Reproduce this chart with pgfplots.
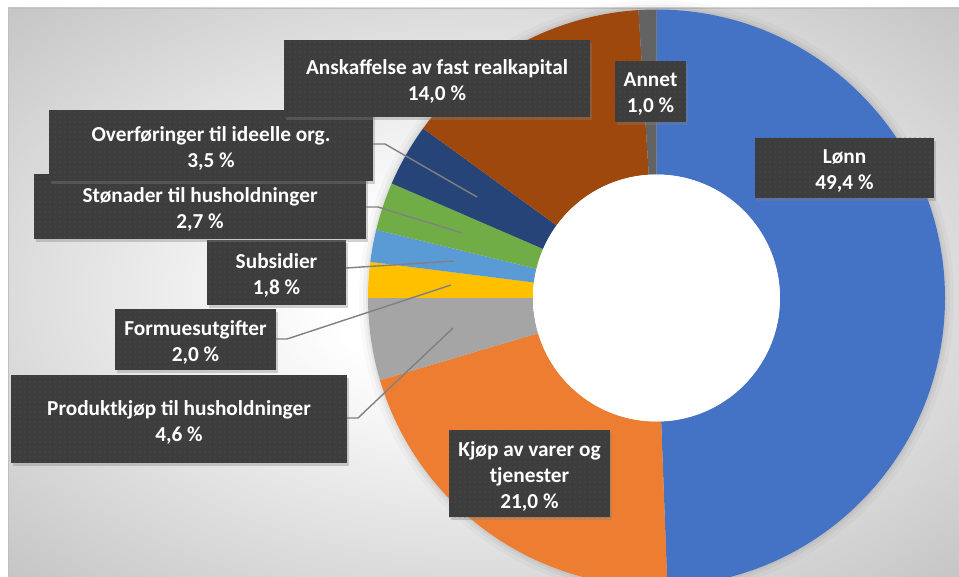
\documentclass[border=0pt]{standalone}
\usepackage{pgfplots}
\usepackage{pgfplotstable}
\pgfplotsset{compat=1.18}
\usetikzlibrary{shadows,patterns.meta}
\usepackage{fontspec}
\setmainfont{Carlito}

\definecolor{cLonn}{HTML}{4472C4}
\definecolor{cKjop}{HTML}{ED7D31}
\definecolor{cProd}{HTML}{A5A5A5}
\definecolor{cForm}{HTML}{FFC000}
\definecolor{cSub}{HTML}{5B9BD5}
\definecolor{cSton}{HTML}{70AD47}
\definecolor{cOver}{HTML}{264478}
\definecolor{cAnsk}{HTML}{9E480E}
\definecolor{cAnnet}{HTML}{636363}
\definecolor{boxc}{HTML}{3D3D3D}
\definecolor{dotc}{HTML}{555555}
\definecolor{leadc}{HTML}{808080}
\definecolor{bgout}{HTML}{C4C4C4}
\definecolor{holeout}{HTML}{D4D4D4}

\pgfdeclareradialshading{bgshade}{\pgfpoint{0bp}{0bp}}{color(0bp)=(white); color(8bp)=(white); color(36bp)=(bgout); color(50bp)=(bgout)}
\pgfdeclareradialshading{holeshade}{\pgfpoint{0bp}{0bp}}{color(0bp)=(white); color(28bp)=(white); color(50bp)=(holeout)}

\pgfplotstableread{
name value col
Lonn 49.4 cLonn
Kjop 21.0 cKjop
Produktkjop 4.6 cProd
Formuesutgifter 2.0 cForm
Subsidier 1.8 cSub
Stonader 2.7 cSton
Overforinger 3.5 cOver
Anskaffelse 14.0 cAnsk
Annet 1.0 cAnnet
}\slices

\tikzset{
  lblbox/.style={fill=boxc, inner sep=0pt, anchor=center,
    drop shadow={shadow xshift=2pt, shadow yshift=-3pt, opacity=0.35},
    postaction={pattern={Dots[distance=5pt, radius=0.7pt]}, pattern color=dotc}},
  lbltxt/.style={text=white, font=\bfseries\fontsize{21.3}{26}\selectfont,
    align=center, inner sep=0pt, anchor=center, yshift=-3pt},
  lead/.style={draw=leadc, line width=1.4pt}
}
\newcommand\lab[5]{%
  \node[lblbox, minimum width=#3pt, minimum height=#4pt] at (axis cs:#1,#2) {};
  \node[lbltxt] at (axis cs:#1,#2) {#5};}

\begin{document}
\begin{tikzpicture}
\begin{axis}[x=1pt, y=1pt, xmin=0, xmax=959, ymin=0, ymax=577, y dir=reverse,
  hide axis, scale only axis, clip=true]
\pgfplotsextra{
  \fill[white] (axis cs:0,0) rectangle (axis cs:959,577);
  \shade[shading=bgshade] (axis cs:8,8) rectangle (axis cs:959,577);
  \draw[black!25, line width=1pt] (axis cs:959,8.5) -- (axis cs:8.5,8.5) -- (axis cs:8.5,577);
  \def\cx{656.5}\def\cy{298}\def\R{288.5}\def\r{123.5}
  % soft halo
  \fill[black, opacity=0.025] (axis cs:\cx,\cy) circle[radius=\R pt+9pt];
  \fill[black, opacity=0.035] (axis cs:\cx,\cy) circle[radius=\R pt+5pt];
  \fill[black, opacity=0.045] (axis cs:\cx,\cy) circle[radius=\R pt+2pt];
  \pgfplotstablegetrowsof{\slices}\pgfmathtruncatemacro\N{\pgfplotsretval-1}
  \def\st{90}
  \pgfplotsforeachungrouped \i in {0,...,\N}{
    \pgfplotstablegetelem{\i}{value}\of\slices\let\v\pgfplotsretval
    \pgfplotstablegetelem{\i}{col}\of\slices\let\c\pgfplotsretval
    \pgfmathsetmacro\en{\st-3.6*\v}
    \fill[color=\c] (axis cs:\cx,\cy) ++(\st:\R pt) arc[start angle=\st, end angle=\en, radius=\R pt]
      -- ([shift={(\en:\r pt)}]axis cs:\cx,\cy) arc[start angle=\en, end angle=\st, radius=\r pt] -- cycle;
    \let\st\en
  }
  \shade[shading=holeshade] (axis cs:\cx,\cy) circle[radius=\r pt];
  % leader lines
  \draw[lead] (axis cs:373,144) -- (axis cs:385,144) -- (axis cs:477,197);
  \draw[lead] (axis cs:366,207) -- (axis cs:378,207) -- (axis cs:462,233);
  \draw[lead] (axis cs:346,268) -- (axis cs:454,261);
  \draw[lead] (axis cs:276,339) -- (axis cs:287,339) -- (axis cs:451,285);
  \draw[lead] (axis cs:347,418) -- (axis cs:358,418) -- (axis cs:453,328);
  % labels
  \lab{179}{419}{336}{88}{Produktkjøp til husholdninger\\4,6 \%}
  \lab{195.5}{339.5}{161}{61}{Formuesutgifter\\2,0 \%}
  \lab{276.5}{272.5}{139}{65}{Subsidier\\1,8 \%}
  \lab{200}{206.5}{332}{65}{Stønader til husholdninger\\2,7 \%}
  \lab{211}{145.5}{324}{71}{Overføringer til ideelle org.\\3,5 \%}
  \lab{437}{78.5}{306}{77}{Anskaffelse av fast realkapital\\14,0 \%}
  \lab{650.5}{91.5}{71}{61}{Annet\\1,0 \%}
  \lab{844.5}{168}{179}{60}{Lønn\\49,4 \%}
  \lab{529.5}{473.5}{161}{87}{Kjøp av varer og\\tjenester\\21,0 \%}
}
\end{axis}
\end{tikzpicture}
\end{document}
